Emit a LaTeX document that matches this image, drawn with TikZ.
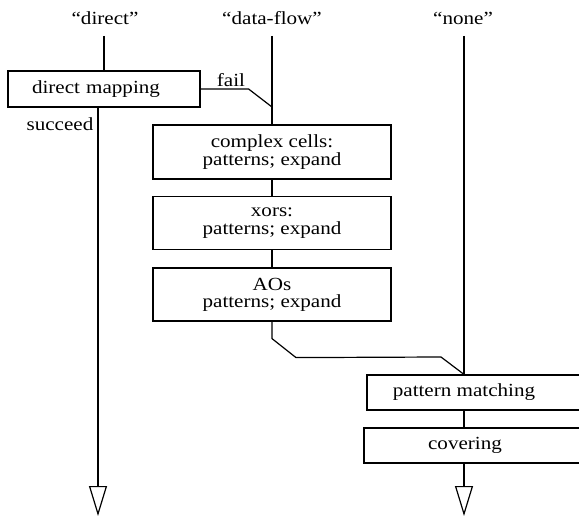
\documentclass[tikz,border=0pt]{standalone}
\usepackage{fontspec}
\setmainfont{Liberation Serif}[FakeStretch=1.14]
\usepackage{tikz}
\usetikzlibrary{calc,arrows.meta}
\definecolor{ink}{HTML}{000000}
\tikzset{
  base/.style={draw=ink, line width=1.2pt, line cap=butt, line join=miter},
  box/.style={draw=ink, line width=1.2pt, rectangle, inner sep=0pt, align=center,
    font=\fontsize{18.5}{17.3}\selectfont},
  lab/.style={text=ink, inner sep=0pt, font=\fontsize{18.5}{17.3}\selectfont},
  outarr/.style={-{Triangle[open,length=30pt,width=18pt,line width=1.2pt]}},
}

\begin{document}
\begin{tikzpicture}[x=1pt,y=-1pt]
  \useasboundingbox (0,0) rectangle (579,516);
  \clip (0,0) rectangle (579,516);

  \node[lab] (tDirect) at (105,18) {“direct”};
  \node[lab] (tFlow) at (272,18) {“data-flow”};
  \node[lab] (tNone) at (463,18) {“none”};
  \coordinate (dTop) at (104,36);
  \coordinate (fTop) at (272,36);
  \coordinate (nTop) at (464,36);
  \coordinate (sEnd) at (98,516);
  \coordinate (nEnd) at (464,516);

  \node[box, text width=144pt, inner xsep=24pt, minimum height=36pt, align=left] (dm) at (104,89) {direct mapping};
  \node[box, minimum width=238pt, minimum height=54pt] (cc) at (272,152) {complex cells:\\patterns; expand};
  \node[box, minimum width=238pt, minimum height=53pt] (xo) at (272,223) {xors:\\patterns; expand};
  \node[box, minimum width=238pt, minimum height=53pt] (ao) at (272,294.5) {AOs\\patterns; expand};
  \node[box, minimum width=230pt, minimum height=35pt,
    label={[lab,xshift=-18pt]center:pattern matching}] (pm) at (482,392.5) {};
  \node[box, minimum width=230pt, minimum height=35pt,
    label={[lab,xshift=-14pt]center:covering}] (cov) at (479,445.5) {};

  \node[lab] (fail) at (231,80) {fail};
  \node[lab] (succ) at (60,124) {succeed};

  \draw[base] (dTop) -- (dm.north);
  \draw[base] (dm.east) -- ++(48,0) -- (fTop |- 0,107);
  \draw[base] (fTop) -- (cc.north);
  \draw[base] (cc.south) -- (xo.north);
  \draw[base] (xo.south) -- (ao.north);
  \draw[base] (ao.south) -- ++(0,17) -- ++(24,19) -- (441,357) -- (nTop |- pm.north);
  \draw[base] (nTop) -- (nTop |- pm.north);
  \draw[base] (nTop |- pm.south) -- (nTop |- cov.north);
  \draw[base,outarr] (nTop |- cov.south) -- (nEnd);
  \draw[base,outarr] (dm.south -| sEnd) -- (sEnd);
\end{tikzpicture}
\end{document}
